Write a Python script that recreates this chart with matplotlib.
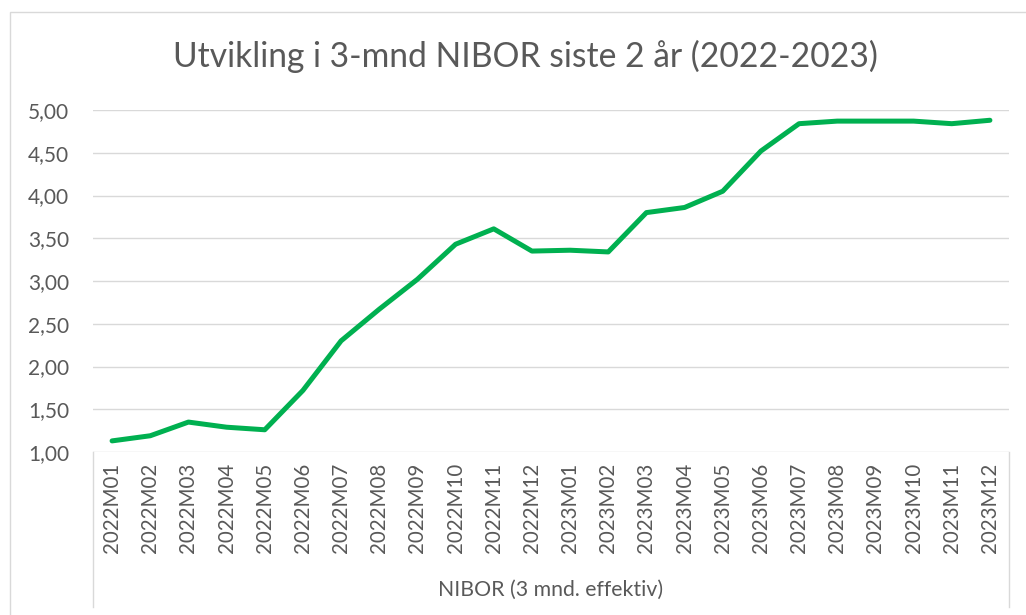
import numpy as np
import matplotlib.pyplot as plt
from matplotlib.patches import Rectangle
from matplotlib.lines import Line2D

# Data
months = ["2022M01", "2022M02", "2022M03", "2022M04", "2022M05", "2022M06",
          "2022M07", "2022M08", "2022M09", "2022M10", "2022M11", "2022M12",
          "2023M01", "2023M02", "2023M03", "2023M04", "2023M05", "2023M06",
          "2023M07", "2023M08", "2023M09", "2023M10", "2023M11", "2023M12"]
nibor = [1.13, 1.19, 1.35, 1.29, 1.26, 1.72, 2.30, 2.67, 3.02, 3.43, 3.61, 3.35,
         3.36, 3.34, 3.80, 3.86, 4.05, 4.52, 4.84, 4.87, 4.87, 4.87, 4.84, 4.88]
yticks = [1.0, 1.5, 2.0, 2.5, 3.0, 3.5, 4.0, 4.5, 5.0]
title = "Utvikling i 3-mnd NIBOR siste 2 år (2022-2023)"
group_label = "NIBOR (3 mnd. effektiv)"

plt.rcParams['font.family'] = ['Lato', 'DejaVu Sans']
txt = '#595959'
grid = '#d9d9d9'

W, H = 1026, 615
fig = plt.figure(figsize=(W / 100, H / 100), dpi=100)

# plot area in pixels
x0, x1, ytop, ybot = 93, 1009, 110, 452
ax = fig.add_axes([x0 / W, (H - ybot) / H, (x1 - x0) / W, (ybot - ytop) / H])

x = np.arange(len(months))
ax.plot(x, nibor, color='#00B050', lw=3.6, solid_capstyle='round',
        solid_joinstyle='round', zorder=3)

ax.set_xlim(-0.5, len(months) - 0.5)
ax.set_ylim(1.0, 5.0)
ax.set_yticks(yticks)
ax.set_yticklabels([f"{v:.2f}".replace('.', ',') for v in yticks])
ax.set_xticks(x)
ax.set_xticklabels(months, rotation=90)

ax.tick_params(axis='y', length=0, pad=17, labelsize=15, labelcolor=txt)
ax.tick_params(axis='x', length=0, pad=8, labelsize=14.8, labelcolor=txt)

for s in ax.spines.values():
    s.set_visible(False)
ax.grid(axis='y', color=grid, lw=1.0, zorder=0)
ax.set_axisbelow(True)

# category box below the axis
box_h = (607 - ybot) / (ybot - ytop)
for xx in (0, 1):
    ax.add_line(Line2D([xx, xx], [0, -box_h], transform=ax.transAxes,
                       color=grid, lw=1.0, clip_on=False))
ax.text(0.5, -(590 - ybot) / (ybot - ytop), group_label, transform=ax.transAxes,
        ha='center', va='center', fontsize=15.3, color=txt)

# title
fig.text(525 / W, (H - 67) / H, title, ha='center', va='baseline',
         fontsize=24.2, color=txt)

# outer chart border
fig.patches.append(Rectangle((10 / W, -0.1), 1.2, (H - 12) / H + 0.1,
                             transform=fig.transFigure, fill=False,
                             edgecolor=grid, lw=1.0))

fig.savefig('out.png', dpi=100, facecolor='white')
